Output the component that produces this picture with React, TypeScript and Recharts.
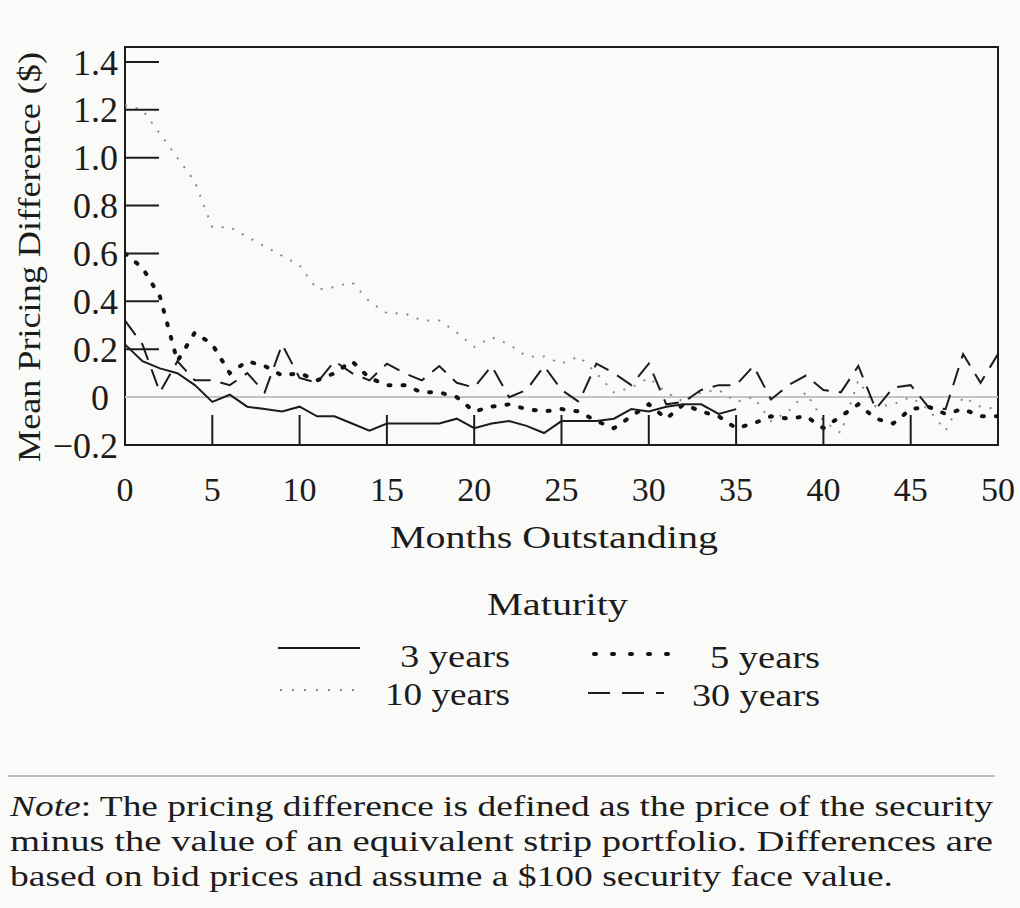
import React from 'react';
import { LineChart, Line, XAxis, YAxis, ReferenceLine, ReferenceArea } from 'recharts';

// Months outstanding (x categories)
const months = [
  0, 1, 2, 3, 4, 5, 6, 7, 8, 9, 10, 11, 12, 13, 14, 15, 16, 17, 18, 19, 20, 21, 22, 23, 24, 25,
  26, 27, 28, 29, 30, 31, 32, 33, 34, 35, 36, 37, 38, 39, 40, 41, 42, 43, 44, 45, 46, 47, 48, 49, 50,
];

// Mean pricing difference ($)
const threeYear = [
  0.22, 0.15, 0.12, 0.1, 0.05, -0.02, 0.01, -0.04, -0.05, -0.06, -0.04, -0.08, -0.08, -0.11, -0.14, -0.11,
  -0.11, -0.11, -0.11, -0.09, -0.13, -0.11, -0.1, -0.12, -0.15, -0.1, -0.1, -0.1, -0.09, -0.05, -0.06,
  -0.04, -0.03, -0.03, -0.07, -0.05, null, null, null, null, null, null, null, null, null, null, null,
  null, null, null, null,
];
const fiveYear = [
  0.6, 0.54, 0.42, 0.15, 0.27, 0.22, 0.1, 0.15, 0.13, 0.09, 0.1, 0.07, 0.1, 0.15, 0.08, 0.05, 0.05, 0.02,
  0.02, 0.0, -0.06, -0.04, -0.03, -0.05, -0.06, -0.05, -0.06, -0.1, -0.13, -0.08, -0.03, -0.09, -0.03,
  -0.06, -0.08, -0.13, -0.11, -0.08, -0.09, -0.08, -0.13, -0.08, -0.03, -0.09, -0.11, -0.05, -0.04, -0.07,
  -0.05, -0.08, -0.08,
];
const tenYear = [
  1.22, 1.2, 1.1, 1.0, 0.9, 0.71, 0.71, 0.67, 0.63, 0.59, 0.55, 0.45, 0.46, 0.48, 0.4, 0.35, 0.35, 0.32,
  0.32, 0.27, 0.21, 0.25, 0.22, 0.17, 0.17, 0.14, 0.17, 0.1, 0.02, 0.04, 0.08, 0.02, -0.02, 0.02, 0.03,
  -0.02, 0.0, -0.1, -0.06, 0.02, -0.1, -0.15, 0.07, -0.04, -0.03, 0.0, -0.05, -0.14, 0.0, -0.04, -0.05,
];
const thirtyYear = [
  0.32, 0.22, 0.02, 0.15, 0.07, 0.07, 0.05, 0.1, 0.02, 0.22, 0.08, 0.06, 0.15, 0.1, 0.07, 0.14, 0.1, 0.07,
  0.13, 0.06, 0.04, 0.13, 0.0, 0.03, 0.13, 0.03, -0.02, 0.14, 0.1, 0.05, 0.14, -0.03, -0.02, 0.03, 0.05,
  0.05, 0.13, -0.01, 0.05, 0.09, 0.03, 0.02, 0.13, -0.05, 0.04, 0.05, -0.04, -0.05, 0.18, 0.06, 0.18,
];

const xTicks = [0, 5, 10, 15, 20, 25, 30, 35, 40, 45, 50];
const yTicks = [-0.2, 0, 0.2, 0.4, 0.6, 0.8, 1.0, 1.2, 1.4];

const data = months.map((m, i) => ({
  m,
  y3: threeYear[i],
  y5: fiveYear[i],
  y10: tenYear[i],
  y30: thirtyYear[i],
}));

const FONT = 'Liberation Serif, Times New Roman, Times, serif';
const INK = '#1c1c1c';
const txt = { fontFamily: FONT };

// line styles shared by the series and the legend swatches
const styles = {
  y3: { stroke: INK, strokeWidth: 2 },
  y5: { stroke: '#111', strokeWidth: 4, strokeDasharray: '2 12', strokeLinecap: 'round' as const },
  y10: { stroke: '#8a8a8a', strokeWidth: 2, strokeDasharray: '2 9' },
  y30: { stroke: INK, strokeWidth: 2, strokeDasharray: '18 10' },
};

const XTick = (props: any) => {
  const { x, y, payload } = props;
  const v = payload.value;
  return (
    <g>
      {v > 0 && v < 50 && <line x1={x} x2={x} y1={y} y2={y - 30} stroke={INK} strokeWidth={2} />}
      <text x={x} y={y + 56} textAnchor="middle" style={txt} fontSize={34} fill={INK}>
        {v}
      </text>
    </g>
  );
};

const YTick = (props: any) => {
  const { x, y, payload } = props;
  const v = payload.value;
  const label = v < 0 ? '\u2212' + Math.abs(v).toFixed(1) : v === 0 ? '0' : v.toFixed(1);
  return (
    <g>
      {v > 0.01 && <line x1={x} x2={x + 34} y1={y} y2={y} stroke={INK} strokeWidth={2} />}
      <text
        x={v === 0 ? x - 16 : x - 7}
        y={y}
        dy="0.35em"
        textAnchor="end"
        style={txt}
        fontSize={36}
        fill={INK}
      >
        {label}
      </text>
    </g>
  );
};

export default function App() {
  return (
    <div
      style={{
        position: 'absolute',
        left: 0,
        top: 0,
        width: 1020,
        height: 908,
        background: '#fafaf8',
        overflow: 'hidden',
        fontFamily: FONT,
      }}
    >
      <div style={{ position: 'absolute', left: 0, top: 0 }}>
        <LineChart width={1020} height={560} data={data} margin={{ top: 47, right: 22, left: 25, bottom: 5 }}>
          <XAxis
            dataKey="m"
            type="number"
            domain={[0, 50]}
            ticks={xTicks}
            interval={0}
            height={110}
            tickSize={0}
            tickMargin={0}
            axisLine={false}
            tickLine={false}
            tick={(p: any) => <XTick {...p} />}
            allowDataOverflow
          />
          <YAxis
            type="number"
            domain={[-0.2, 1.4625]}
            ticks={yTicks}
            interval={0}
            width={100}
            tickSize={0}
            tickMargin={0}
            axisLine={false}
            tickLine={false}
            tick={(p: any) => <YTick {...p} />}
            allowDataOverflow
          />
          <ReferenceLine y={0} stroke="#c4c4c4" strokeWidth={2} />
          <Line dataKey="y10" type="linear" dot={false} activeDot={false} isAnimationActive={false} {...styles.y10} />
          <Line dataKey="y30" type="linear" dot={false} activeDot={false} isAnimationActive={false} {...styles.y30} />
          <Line dataKey="y5" type="linear" dot={false} activeDot={false} isAnimationActive={false} {...styles.y5} />
          <Line
            dataKey="y3"
            type="linear"
            dot={false}
            activeDot={false}
            connectNulls={false}
            isAnimationActive={false}
            {...styles.y3}
          />
          <ReferenceArea
            x1={0}
            x2={50}
            y1={-0.2}
            y2={1.4625}
            fill="none"
            fillOpacity={0}
            stroke={INK}
            strokeWidth={2}
            ifOverflow="visible"
          />
        </LineChart>
      </div>

      {/* titles, legend and note */}
      <svg
        width={1020}
        height={908}
        style={{ position: 'absolute', left: 0, top: 0, pointerEvents: 'none', fontFamily: FONT }}
        fill={INK}
      >
        <text
          transform="translate(40,257) rotate(-90)"
          textAnchor="middle"
          fontSize={31}
          textLength={410}
          lengthAdjust="spacingAndGlyphs"
        >
          Mean Pricing Difference ($)
        </text>
        <text x={390} y={548} fontSize={32} textLength={328} lengthAdjust="spacingAndGlyphs">
          Months Outstanding
        </text>

        <text x={487} y={615} fontSize={31} textLength={141} lengthAdjust="spacingAndGlyphs">
          Maturity
        </text>
        <line x1={278} x2={360} y1={648} y2={648} {...styles.y3} />
        <text x={400} y={667} fontSize={31} textLength={110} lengthAdjust="spacingAndGlyphs">
          3 years
        </text>
        <line x1={594} x2={668} y1={654} y2={654} {...styles.y5} strokeDasharray="2 16" />
        <text x={710} y={668} fontSize={31} textLength={110} lengthAdjust="spacingAndGlyphs">
          5 years
        </text>
        <line x1={280} x2={364} y1={690} y2={690} {...styles.y10} strokeDasharray="2 10" />
        <text x={385} y={705} fontSize={31} textLength={125} lengthAdjust="spacingAndGlyphs">
          10 years
        </text>
        <line x1={588} x2={682} y1={693} y2={693} {...styles.y30} strokeDasharray="22 12 22 12 8 300" />
        <text x={692} y={706} fontSize={31} textLength={128} lengthAdjust="spacingAndGlyphs">
          30 years
        </text>

        <line x1={8} x2={995} y1={776} y2={776} stroke="#a8a8a8" strokeWidth={1.5} />
        <text x={10} y={816} fontSize={29} textLength={983} lengthAdjust="spacingAndGlyphs">
          <tspan fontStyle="italic">Note</tspan>: The pricing difference is defined as the price of the security
        </text>
        <text x={10} y={851} fontSize={29} textLength={983} lengthAdjust="spacingAndGlyphs">
          minus the value of an equivalent strip portfolio. Differences are
        </text>
        <text x={10} y={886} fontSize={29} textLength={883} lengthAdjust="spacingAndGlyphs">
          based on bid prices and assume a $100 security face value.
        </text>
      </svg>
    </div>
  );
}
